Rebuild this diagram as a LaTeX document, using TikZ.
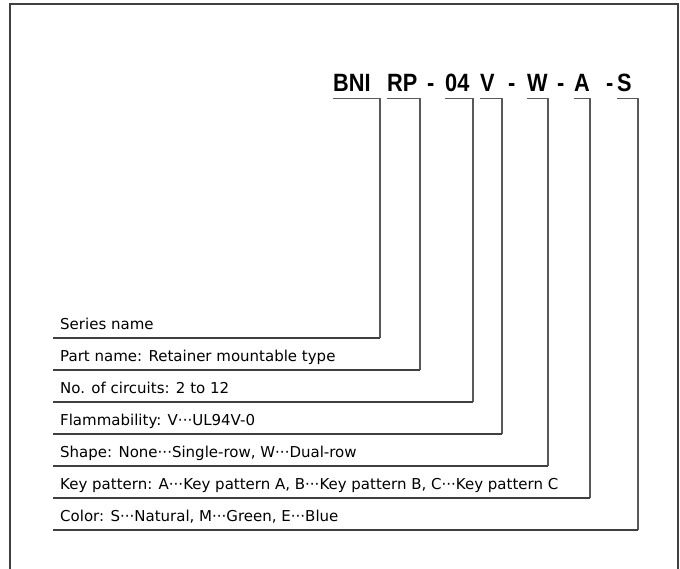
\documentclass[tikz,border=0pt]{standalone}
\usepackage{fontspec}
\setmainfont{Liberation Sans}
\newfontfamily\codefont{Liberation Sans}[FakeStretch=0.87]
\newfontfamily\descfont{DejaVu Sans}
\usetikzlibrary{positioning}

\begin{document}
\begin{tikzpicture}[
    x=1pt, y=-1pt,
    every node/.style={inner sep=0pt, anchor=base west},
    code/.style={font=\codefont\bfseries\fontsize{25}{30}\selectfont},
    desc/.style={font=\descfont\fontsize{15}{18}\selectfont},
    frame/.style={line width=1.6pt, black!75},
    bracket/.style={line width=1.3pt, black!65},
    uline/.style={line width=1.3pt, black!75}
]
\useasboundingbox (0,0) rectangle (680,568);

% Outer frame (open at the bottom)
\draw[frame] (10,570) -- (10,4) -- (678,4) -- (678,570);

% Part number
\node[code] (bni) at (333,91) {BNI};
\node[code] (rp) at (387,91) {RP};
\node[code] (d1) at (427,91) {-};
\node[code] (n04) at (445,91) {04};
\node[code] (v) at (480,91) {V};
\node[code] (d2) at (508,91) {-};
\node[code] (w) at (527,91) {W};
\node[code] (d3) at (557,91) {-};
\node[code] (a) at (574,91) {A};
\node[code] (d4) at (606,91) {-};
\node[code] (s) at (617,91) {S};

% Descriptions
\node[desc] (lSeries) at (60,329) {Series name};
\node[desc] (lPart) at (60,361) {Part name: Retainer mountable type};
\node[desc] (lCirc) at (60,393) {No. of circuits: 2 to 12};
\node[desc] (lFlam) at (60,425) {Flammability: V···UL94V-0};
\node[desc] (lShape) at (60,457) {Shape: None···Single-row, W···Dual-row};
\node[desc] (lKey) at (60,489) {Key pattern: A···Key pattern A, B···Key pattern B, C···Key pattern C};
\node[desc] (lColor) at (60,521) {Color: S···Natural, M···Green, E···Blue};

% Ends of the underlines
\coordinate (sSeries) at (53,338);
\coordinate (eSeries) at (380,338);
\coordinate (sPart) at (53,370);
\coordinate (ePart) at (420,370);
\coordinate (sCirc) at (53,402);
\coordinate (eCirc) at (473,402);
\coordinate (sFlam) at (53,434);
\coordinate (eFlam) at (502,434);
\coordinate (sShape) at (53,466);
\coordinate (eShape) at (548,466);
\coordinate (sKey) at (53,498);
\coordinate (eKey) at (590,498);
\coordinate (sColor) at (53,530);
\coordinate (eColor) at (638,530);

% Brackets from each code down to its description
\draw[bracket] ([yshift=-7.5pt]bni.base west) -| (eSeries);
\draw[bracket] ([yshift=-7.5pt]rp.base west) -| (ePart);
\draw[bracket] ([yshift=-7.5pt]n04.base west) -| (eCirc);
\draw[bracket] ([yshift=-7.5pt]v.base west) -| (eFlam);
\draw[bracket] ([yshift=-7.5pt]w.base west) -| (eShape);
\draw[bracket] ([yshift=-7.5pt]a.base west) -| (eKey);
\draw[bracket] ([yshift=-7.5pt]s.base west) -| (eColor);

% Underlines
\draw[uline] (sSeries) -- (eSeries);
\draw[uline] (sPart) -- (ePart);
\draw[uline] (sCirc) -- (eCirc);
\draw[uline] (sFlam) -- (eFlam);
\draw[uline] (sShape) -- (eShape);
\draw[uline] (sKey) -- (eKey);
\draw[uline] (sColor) -- (eColor);

\end{tikzpicture}
\end{document}
